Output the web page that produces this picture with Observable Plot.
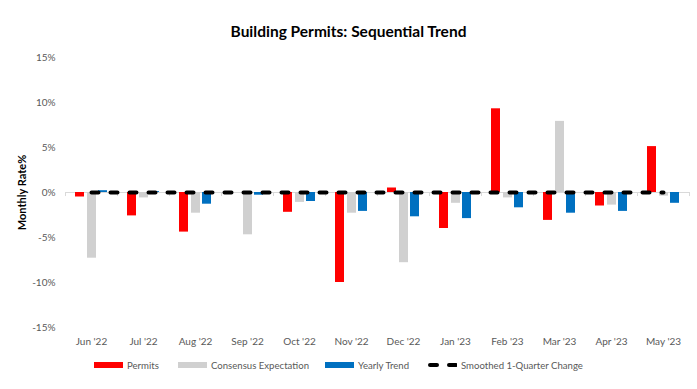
<!DOCTYPE html>
<html>
<head>
<meta charset="utf-8">
<script src="https://cdn.jsdelivr.net/npm/d3@7"></script>
<script src="https://cdn.jsdelivr.net/npm/@observablehq/plot@0.6"></script>
<style>
  html, body { margin: 0; padding: 0; background: #fff; }
  #wrap { position: relative; width: 697px; height: 389px; overflow: hidden; font-family: Lato, "Open Sans", sans-serif; }
  #title { position: absolute; left: 0; width: 697px; top: 22px; text-align: center; font-weight: bold; font-size: 15.5px; color: #000; }
  #legend { position: absolute; top: 358px; left: 0; width: 697px; font-size: 9.6px; color: #595959; }
  .li { position: absolute; display: flex; align-items: center; height: 14px; }
  .sw { width: 29px; height: 6px; margin-right: 4px; }
  #chart { position: absolute; left: 0; top: 0; }
</style>
</head>
<body>
<div id="wrap">
  <div id="chart"></div>
  <div id="title">Building Permits: Sequential Trend</div>
  <div id="legend"></div>
</div>
<script>
const months = ["Jun '22","Jul '22","Aug '22","Sep '22","Oct '22","Nov '22","Dec '22","Jan '23","Feb '23","Mar '23","Apr '23","May '23"];
const permits   = [-0.5, -2.6, -4.4, 0.0, -2.2, -10.0, 0.5, -4.0, 9.3, -3.1, -1.5, 5.1];
const consensus = [-7.3, -0.6, -2.3, -4.7, -1.1, -2.3, -7.8, -1.2, -0.6, 7.9, -1.4, -0.4];
const yearly    = [0.2, 0.1, -1.3, -0.3, -1.0, -2.1, -2.7, -2.9, -1.7, -2.3, -2.1, -1.2];
const smoothed  = [0, 0, 0, 0, 0, 0, 0, 0, 0, 0, 0, 0];
const yTicks = [-15, -10, -5, 0, 5, 10, 15];
const seriesNames = ["Permits", "Consensus Expectation", "Yearly Trend", "Smoothed 1-Quarter Change"];
const colors = ["#FF0000", "#D0D0D0", "#0070C0", "#000000"];
const yLabel = "Monthly Rate%";

const rows = (vals) => months.map((m, i) => ({month: m, value: vals[i]}));

const chart = Plot.plot({
  width: 697,
  height: 389,
  marginLeft: 65,
  marginRight: 8,
  marginTop: 57,
  marginBottom: 62,
  style: {fontFamily: "Lato, 'Open Sans', sans-serif", fontSize: "10px", color: "#595959", background: "transparent"},
  x: {type: "band", domain: months, padding: 0, label: null},
  y: {domain: [-15, 15], label: null},
  marks: [
    Plot.axisY({ticks: yTicks, tickSize: 0, tickPadding: 10, tickFormat: d => d + "%", fill: "#595959", fontSize: 10}),
    Plot.axisX({tickSize: 0, tickPadding: 10, fill: "#595959", fontSize: 10}),
    Plot.ruleY([0], {stroke: "#D9D9D9", strokeWidth: 1}),
    Plot.ruleX(months, {x: d => d, y1: 0, y2: -0.45, dx: -26, stroke: "#D9D9D9"}),
    Plot.ruleX([months[months.length - 1]], {x: d => d, y1: 0, y2: -0.45, dx: 26, stroke: "#D9D9D9"}),
    Plot.barY(rows(permits),   {x: "month", y: "value", fill: colors[0], insetLeft: 10, insetRight: 33}),
    Plot.barY(rows(consensus), {x: "month", y: "value", fill: colors[1], insetLeft: 22, insetRight: 21}),
    Plot.barY(rows(yearly),    {x: "month", y: "value", fill: colors[2], insetLeft: 33, insetRight: 10}),
    Plot.lineY(rows(smoothed), {x: "month", y: "value", stroke: colors[3], strokeWidth: 4, strokeDasharray: "7,12", strokeLinecap: "round"}),
    Plot.text([yLabel], {frameAnchor: "left", textAnchor: "middle", dx: -43, rotate: -90, text: d => d, fill: "#000", fontSize: 11, fontWeight: "bold"})
  ]
});
document.getElementById("chart").appendChild(chart);

const legend = document.getElementById("legend");
const lefts = [94, 178, 325, 428];
seriesNames.forEach((name, i) => {
  const li = document.createElement("div");
  li.className = "li";
  li.style.left = lefts[i] + "px";
  let sw;
  if (i < 3) {
    sw = document.createElement("div");
    sw.className = "sw";
    sw.style.background = colors[i];
  } else {
    sw = document.createElementNS("http://www.w3.org/2000/svg", "svg");
    sw.setAttribute("width", 29); sw.setAttribute("height", 6);
    sw.style.marginRight = "4px";
    const l = document.createElementNS("http://www.w3.org/2000/svg", "line");
    l.setAttribute("x1", 2); l.setAttribute("x2", 29); l.setAttribute("y1", 3); l.setAttribute("y2", 3);
    l.setAttribute("stroke", colors[3]); l.setAttribute("stroke-width", 4);
    l.setAttribute("stroke-dasharray", "7,12"); l.setAttribute("stroke-linecap", "round");
    sw.appendChild(l);
  }
  li.appendChild(sw);
  const t = document.createElement("span");
  t.textContent = name;
  li.appendChild(t);
  legend.appendChild(li);
});
</script>
</body>
</html>
